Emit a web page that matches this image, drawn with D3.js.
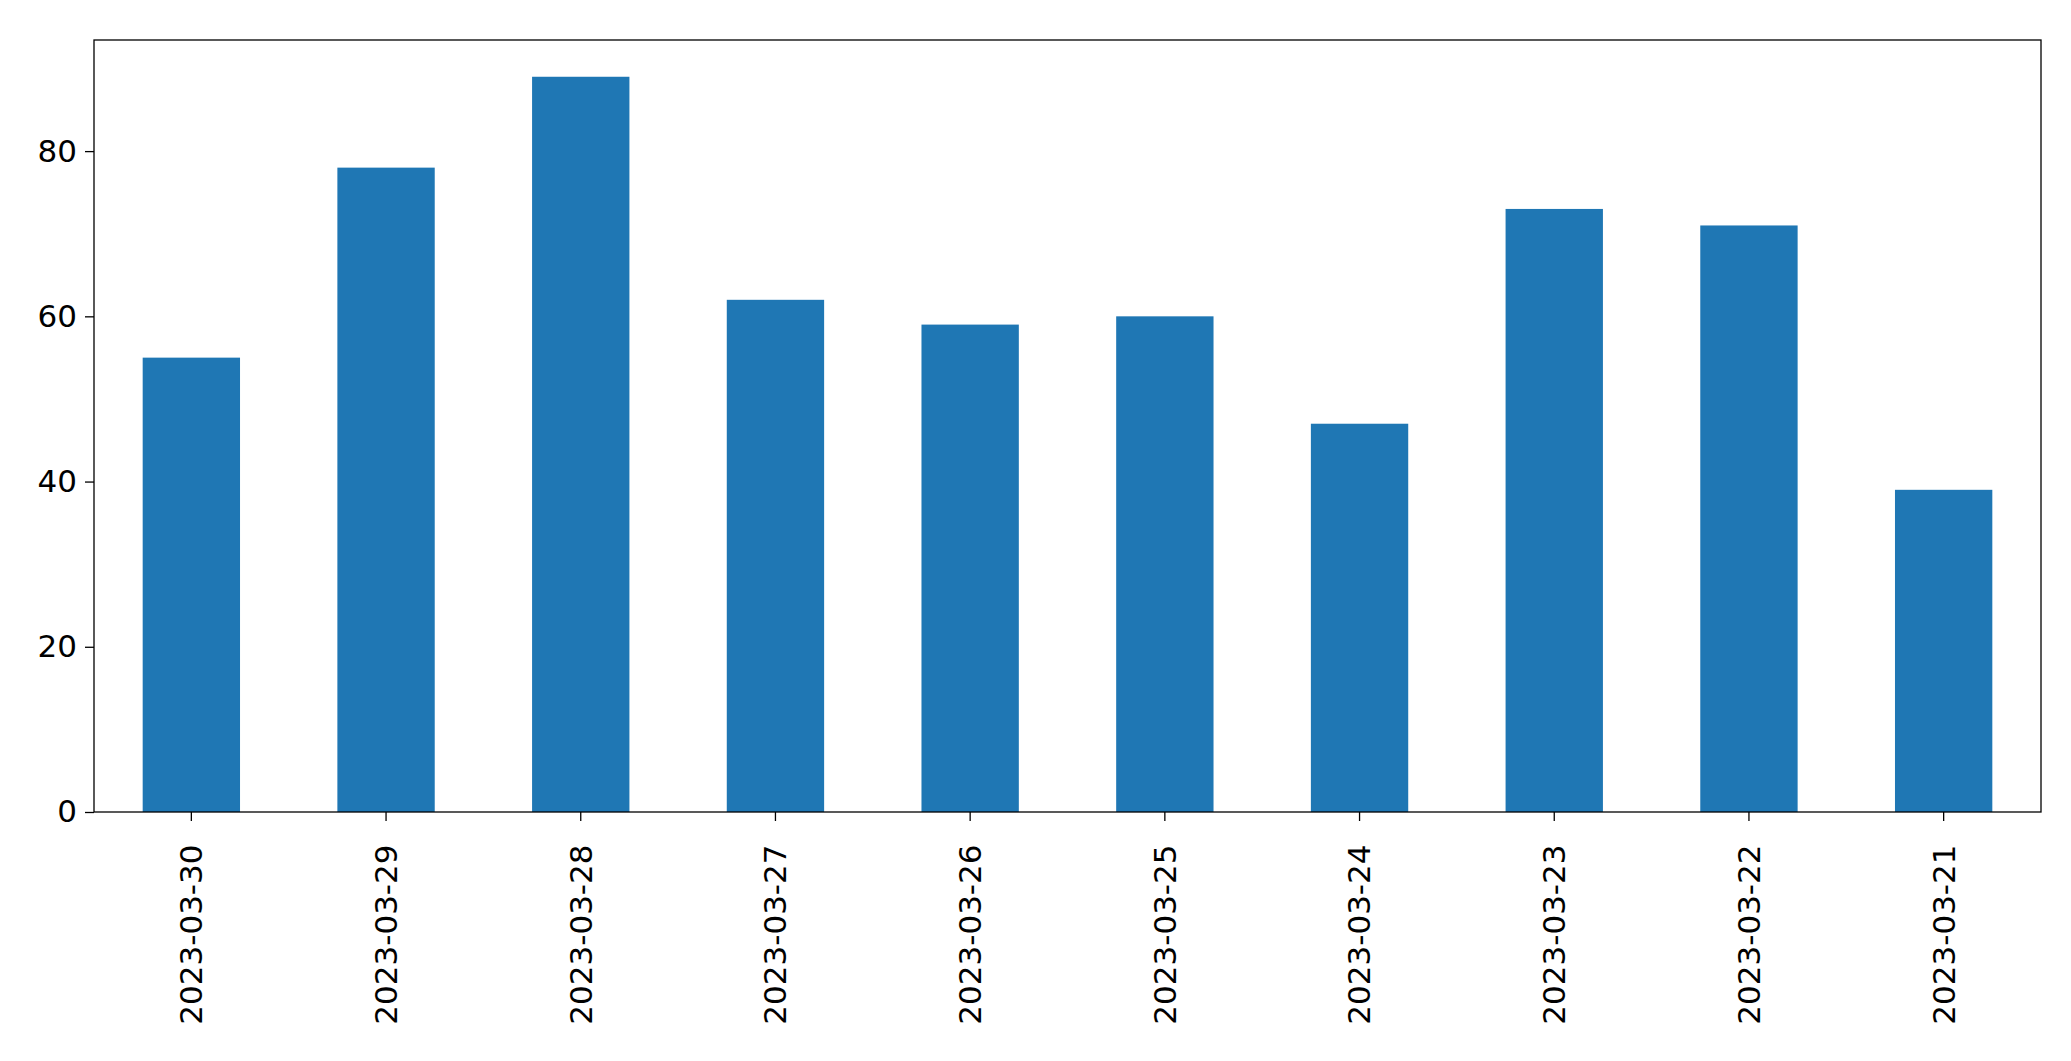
<!DOCTYPE html>
<html><head><meta charset="utf-8">
<script src="https://cdn.jsdelivr.net/npm/d3@7"></script>
<style>body{margin:0;background:#fff}svg{display:block}text{font-family:"DejaVu Sans";}</style>
</head><body><svg id="c" width="2071" height="1061"></svg>
<script>
const categories = ["2023-03-30","2023-03-29","2023-03-28","2023-03-27","2023-03-26","2023-03-25","2023-03-24","2023-03-23","2023-03-22","2023-03-21"];
const values = [55,78,89,62,59,60,47,73,71,39];
const yTicks = [0,20,40,60,80];

const svg = d3.select("#c");
const L=94,R=2041,T=40,B=812;
const x = d3.scaleBand().domain(categories).range([L,R]).paddingInner(0.5).paddingOuter(0.25);
const y = d3.scaleLinear().domain([0, d3.max(values)*1.05]).range([B,T]);

svg.selectAll("rect.bar").data(values).join("rect").attr("class","bar")
  .attr("x",(d,i)=>x(categories[i])).attr("width",x.bandwidth())
  .attr("y",d=>y(d)).attr("height",d=>B-y(d)).attr("fill","#1f77b4");

const ya = svg.append("g").attr("transform",`translate(${L},0)`)
  .call(d3.axisLeft(y).tickValues(yTicks).tickSize(9).tickPadding(8).tickFormat(d3.format("d")));
ya.select(".domain").remove();
ya.selectAll("text").attr("font-size",31).attr("fill","#000").attr("font-family","DejaVu Sans");
ya.selectAll("line").attr("stroke","#000").attr("stroke-width",1.3);

const xa = svg.append("g").attr("transform",`translate(0,${B})`)
  .call(d3.axisBottom(x).tickSize(9).tickPadding(8));
xa.select(".domain").remove();
xa.selectAll("line").attr("stroke","#000").attr("stroke-width",1.3);
xa.selectAll("text").attr("font-size",31).attr("fill","#000").attr("font-family","DejaVu Sans")
  .attr("transform","rotate(-90)").attr("text-anchor","end").attr("dx","-0.5em").attr("dy","0.35em").attr("x",0).attr("y",0)
  .attr("transform",function(){return "translate(0,17) rotate(-90)";});

svg.append("rect").attr("x",L).attr("y",T).attr("width",R-L).attr("height",B-T)
  .attr("fill","none").attr("stroke","#000").attr("stroke-width",1.3);
</script></body></html>
